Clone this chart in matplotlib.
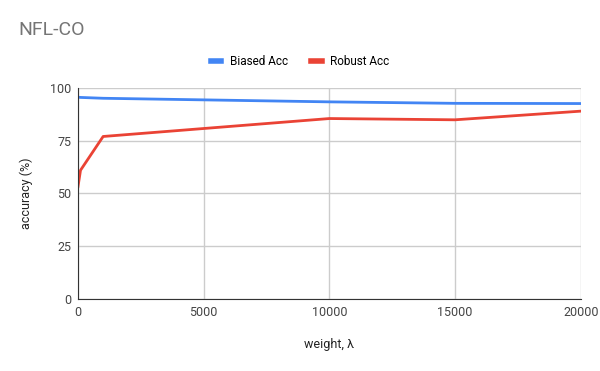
import matplotlib
matplotlib.use("Agg")
import matplotlib.pyplot as plt

plt.rcParams['font.family'] = ['Roboto', 'DejaVu Sans']

weights = [0, 100, 1000, 10000, 15000, 20000]
biased_acc = [95.6, 95.5, 95.1, 93.4, 92.7, 92.6]
robust_acc = [53.3, 61.0, 77.0, 85.5, 84.9, 89.0]

x_ticks = [0, 5000, 10000, 15000, 20000]
y_ticks = [0, 25, 50, 75, 100]

fig = plt.figure(figsize=(6, 3.71), dpi=100)
ax = fig.add_axes([0.13, 0.194, 0.838, 0.569])

ax.plot(weights, biased_acc, color='#4285F4', lw=2, label='Biased Acc')
ax.plot(weights, robust_acc, color='#EA4335', lw=2, label='Robust Acc')

ax.set_xlim(0, 20000)
ax.set_ylim(0, 100)
ax.set_xticks(x_ticks)
ax.set_yticks(y_ticks)
ax.grid(True, color='#cccccc', lw=1)
ax.set_axisbelow(True)
ax.tick_params(length=0, labelsize=9, colors='#444444', pad=5)
for s in ['top', 'right']:
    ax.spines[s].set_visible(False)
ax.spines['left'].set_color('#333333')
ax.spines['bottom'].set_color('#333333')

ax.set_xlabel('weight, λ', fontsize=9, color='#222222', labelpad=14)
ax.set_ylabel('accuracy (%)', fontsize=9, color='#222222', labelpad=12)

fig.text(0.03, 0.918, 'NFL-CO', fontsize=14, color='#757575', va='center')
leg = fig.legend(loc='center', bbox_to_anchor=(0.5, 0.835), ncol=2, frameon=False,
                 fontsize=8.5, handlelength=0.9, handletextpad=0.7, columnspacing=2.0)
for line in leg.get_lines():
    line.set_linewidth(4)

fig.savefig('out.png', dpi=100)
